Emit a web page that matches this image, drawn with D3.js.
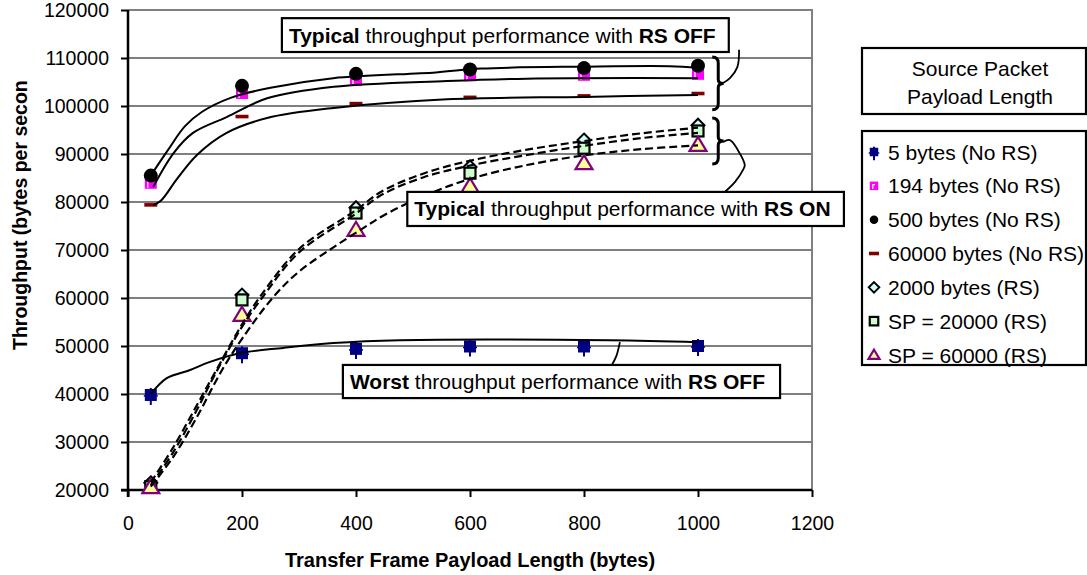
<!DOCTYPE html>
<html><head><meta charset="utf-8">
<script src="https://cdn.jsdelivr.net/npm/d3@7"></script>
<style>
html,body{margin:0;padding:0;background:#fff;}
svg{display:block;font-family:"Liberation Sans",Arial,sans-serif;}
</style></head>
<body>
<svg id="chart" width="1087" height="575"></svg>
<script>
// ---------- data ----------
const xTicks = [0,200,400,600,800,1000,1200];
const yTicks = [20000,30000,40000,50000,60000,70000,80000,90000,100000,110000,120000];
const frameLengths = [40,200,400,600,800,1000];

const s5bytes    = [39800,48500,49400,49900,49900,50000];
const s194bytes  = [84000,102700,105400,106400,106500,106700];
const s500bytes  = [85500,104200,106700,107600,107900,108400];
const s60000NoRS = [79400,97800,100500,101800,102100,102600];
const s2000RS    = [21500,60600,78800,87300,92900,96000];
const sSP20000RS = [20700,59600,77700,86000,91200,94800];
const sSP60000RS = [20600,56500,74200,83300,88100,91900];

const seriesNames = ["5 bytes (No RS)","194 bytes (No RS)","500 bytes (No RS)","60000 bytes (No RS)",
                     "2000 bytes (RS)","SP = 20000 (RS)","SP = 60000 (RS)"];

// hand-drawn trend curves (data units)
const curve500   = [[40,85500],[70,90800],[100,95800],[130,98800],[180,101700],[250,103800],[360,105800],[540,107000],[620,107800],[800,108200],[950,108300],[1000,108000]];
const curve194   = [[44,83100],[80,90200],[114,94400],[173,97700],[244,101600],[361,104000],[560,105200],[700,105700],[1000,105800]];
const curve60000 = [[44,79300],[58,80300],[86,84800],[121,89800],[173,94400],[244,97500],[361,99600],[560,101400],[800,101900],[1000,102300]];
const curve5     = [[40,40000],[68,43300],[109,45000],[144,46700],[196,48500],[272,49600],[360,50600],[477,51200],[845,51200],[1000,50800]];
const curveRSa   = [[40,21600],[80,29000],[120,37500],[155,45000],[200,54500],[235,60800],[300,70200],[400,78300],[445,82200],[520,86000],[600,88600],[700,90900],[800,92700],[900,94300],[1000,95500]];
const curveRSb   = [[40,21000],[80,28000],[120,36500],[150,43500],[200,54000],[235,60000],[300,69500],[400,77600],[445,81500],[520,85200],[600,87600],[700,89800],[800,91700],[900,93300],[1000,94400]];
const curveRSc   = [[40,20700],[80,27000],[120,35000],[165,45000],[200,51500],[255,60200],[300,65500],[361,70600],[408,74200],[450,77300],[520,81300],[600,84800],[700,87700],[800,89700],[900,91000],[1000,91800]];

// annotations (data units)
const braceOff = {x:1025, tip:1045, top:110200, bottom:99200};
const braceOn  = {x:1025, tip:1045, top:97500, bottom:87900};
const connOff  = [[1044,104800],[1056,105800],[1069,108100],[1072,111700]];
const connOn   = [[1044,92500],[1056,92900],[1070,90800],[1082,87700],[1079,86700],[1065,84200],[1047,82100]];
const connWorst= [[849,46042],[857,48000],[863,50800]];
const boxes = [
  {x0:270, x1:1054, y0:118300, y1:111250, bold1:"Typical", rest:" throughput performance with ", bold2:"RS OFF"},
  {x0:490, x1:1256, y0:82100,  y1:75000,  bold1:"Typical", rest:" throughput performance with ", bold2:"RS ON"},
  {x0:377, x1:1144, y0:46050,  y1:39150,  bold1:"Worst",   rest:" throughput performance with ", bold2:"RS OFF"}
];

// ---------- layout ----------
const svg = d3.select("#chart");
const L=128, R=812, T=10, B=490;
const x = d3.scaleLinear().domain([0,1200]).range([L,R]);
const y = d3.scaleLinear().domain([20000,120000]).range([B,T]);

// gridlines
svg.append("g").selectAll("line").data(yTicks.filter(v=>v>20000 && v<120000)).join("line")
  .attr("x1",L).attr("x2",R).attr("y1",d=>y(d)).attr("y2",d=>y(d))
  .attr("stroke","#000").attr("stroke-width",1.2);
// top and right border (grey)
svg.append("path").attr("d",`M${L},${y(120000)}H${R}V${B}`).attr("fill","none").attr("stroke","#808080").attr("stroke-width",2);

// axes
const yAxis = d3.axisLeft(y).tickValues(yTicks).tickSize(7).tickPadding(12).tickFormat(d3.format("d"));
const gy = svg.append("g").attr("transform",`translate(${L},0)`).call(yAxis);
const xAxis = d3.axisBottom(x).tickValues(xTicks).tickSize(7).tickPadding(19).tickFormat(d3.format("d"));
const gx = svg.append("g").attr("transform",`translate(0,${B})`).call(xAxis);
[gx,gy].forEach(g=>{
  g.select(".domain").attr("stroke","#000").attr("stroke-width",2.5);
  g.selectAll(".tick line").attr("stroke","#000").attr("stroke-width",2);
  g.selectAll(".tick text").attr("fill","#000").style("font-size","19.5px").style("font-family",'"Liberation Sans",Arial,sans-serif');
});
gy.select(".domain").attr("d",`M0,${T}V${B+7}`);
gx.select(".domain").attr("d",`M${L-7},0H${R}`);

// axis titles
svg.append("text").attr("x",(L+R)/2).attr("y",567).attr("text-anchor","middle")
  .style("font-size","20px").style("font-weight","bold").text("Transfer Frame Payload Length (bytes)");
svg.append("clipPath").attr("id","ytclip").append("rect").attr("x",0).attr("y",80).attr("width",60).attr("height",480);
svg.append("g").attr("clip-path","url(#ytclip)").append("text")
  .attr("transform","translate(27,350) rotate(-90)").attr("text-anchor","start")
  .style("font-size","19.5px").style("font-weight","bold").text("Throughput (bytes per second)");

// ---------- markers ----------
const mk = svg.append("g");
function pts(arr){ return frameLengths.map((f,i)=>({f, v:arr[i]})); }

function drawNavy(g,cx,cy,s){
  g.append("rect").attr("x",cx-s/2).attr("y",cy-s/2).attr("width",s).attr("height",s).attr("fill","#000080");
  g.append("line").attr("x1",cx).attr("x2",cx).attr("y1",cy-s/2-1).attr("y2",cy+s/2+4).attr("stroke","#000080").attr("stroke-width",2);
  g.append("line").attr("x1",cx-s/2-1).attr("x2",cx+s/2+1).attr("y1",cy+1).attr("y2",cy+1).attr("stroke","#000080").attr("stroke-width",1.5);
}
function drawMagenta(g,cx,cy,s){
  g.append("rect").attr("x",cx-s/2).attr("y",cy-s/2).attr("width",s).attr("height",s).attr("fill","#FF00FF");
  g.append("path").attr("d",`M${cx-s/2+3},${cy+s/2-1}V${cy-s/2+3}H${cx+1}`).attr("stroke","#fff").attr("stroke-width",1.2).attr("fill","none");
}
function drawCircle(g,cx,cy,s){
  g.append("circle").attr("cx",cx).attr("cy",cy).attr("r",s/2).attr("fill","#000");
}
function drawDash(g,cx,cy,s){
  g.append("rect").attr("x",cx-s/2).attr("y",cy-1.8).attr("width",s).attr("height",3.6).attr("fill","#800000");
}
function drawDiamond(g,cx,cy,s){
  const h=s/2+1;
  g.append("path").attr("d",`M${cx},${cy-h}L${cx+h},${cy}L${cx},${cy+h}L${cx-h},${cy}Z`).attr("fill","#CCFFFF").attr("stroke","#000").attr("stroke-width",2);
}
function drawSquare(g,cx,cy,s){
  g.append("rect").attr("x",cx-s/2).attr("y",cy-s/2).attr("width",s).attr("height",s).attr("fill","#CCFFCC").attr("stroke","#000").attr("stroke-width",2.2);
}
function drawTriangle(g,cx,cy,s){
  const h=s*0.62;
  g.append("path").attr("d",`M${cx},${cy-h}L${cx+h*1.05},${cy+h*0.75}L${cx-h*1.05},${cy+h*0.75}Z`).attr("fill","#FFFF99").attr("stroke","#800080").attr("stroke-width",2.2);
}
const seriesDefs = [
  [s5bytes, drawNavy, 12],
  [s194bytes, drawMagenta, 12],
  [s500bytes, drawCircle, 14],
  [s60000NoRS, drawDash, 13],
  [s2000RS, drawDiamond, 11],
  [sSP20000RS, drawSquare, 11],
  [sSP60000RS, drawTriangle, 13]
];
seriesDefs.forEach(([arr,fn,s])=>{
  pts(arr).forEach(p=>fn(mk, x(p.f), y(p.v), s));
});

// ---------- curves ----------
const line = d3.line().x(d=>x(d[0])).y(d=>y(d[1])).curve(d3.curveCatmullRom.alpha(0.5));
const cg = svg.append("g").attr("fill","none").attr("stroke","#000");
[curve500,curve194,curve60000,curve5].forEach(c=>cg.append("path").attr("d",line(c)).attr("stroke-width",2));
[curveRSa,curveRSb,curveRSc].forEach(c=>cg.append("path").attr("d",line(c)).attr("stroke-width",2.2).attr("stroke-dasharray","8,4"));

// ---------- braces & connectors ----------
function brace(b){
  const xa=x(b.x), xt=x(b.tip), yt=y(b.top), yb=y(b.bottom), ym=(yt+yb)/2, xm=xa+6;
  return `M${xa},${yt} Q${xm},${yt} ${xm},${yt+6} L${xm},${ym-4} Q${xm},${ym} ${xt},${ym} Q${xm},${ym} ${xm},${ym+4} L${xm},${yb-6} Q${xm},${yb} ${xa},${yb}`;
}
const ag = svg.append("g").attr("fill","none").attr("stroke","#000");
[braceOff,braceOn].forEach(b=>ag.append("path").attr("d",brace(b)).attr("stroke-width",3));
const conn = d3.line().x(d=>x(d[0])).y(d=>y(d[1])).curve(d3.curveCatmullRom.alpha(0.5));
[connOff,connOn,connWorst].forEach(c=>ag.append("path").attr("d",conn(c)).attr("stroke-width",1.8));

// ---------- boxes ----------
boxes.forEach(b=>{
  const g = svg.append("g");
  const bx=x(b.x0), by=y(b.y0), bw=x(b.x1)-x(b.x0), bh=y(b.y1)-y(b.y0);
  g.append("rect").attr("x",bx).attr("y",by).attr("width",bw).attr("height",bh).attr("fill","#fff").attr("stroke","#000").attr("stroke-width",2.2);
  const t = g.append("text").attr("x",bx+7).attr("y",by+bh/2+7.5).style("font-size","21px");
  t.append("tspan").style("font-weight","bold").text(b.bold1);
  t.append("tspan").text(b.rest);
  t.append("tspan").style("font-weight","bold").text(b.bold2);
});

// ---------- legend ----------
const lg = svg.append("g");
lg.append("rect").attr("x",862).attr("y",48).attr("width",224).attr("height",66).attr("fill","#fff").attr("stroke","#000").attr("stroke-width",2.2);
lg.append("text").attr("x",980).attr("y",76).attr("text-anchor","middle").style("font-size","21px").text("Source Packet");
lg.append("text").attr("x",980).attr("y",104).attr("text-anchor","middle").style("font-size","21px").text("Payload Length");
lg.append("rect").attr("x",862).attr("y",131).attr("width",224).attr("height",234).attr("fill","#fff").attr("stroke","#000").attr("stroke-width",2.2);
const legFns = [drawNavy,drawMagenta,drawCircle,drawDash,drawDiamond,drawSquare,drawTriangle];
const legY = d3.scalePoint().domain(seriesNames).range([152,355]);
seriesNames.forEach((n,i)=>{
  const cy = legY(n);
  legFns[i](lg, 874, cy, i===3?10:8.5);
  lg.append("text").attr("x",888).attr("y",cy+7.5).style("font-size","21px").text(n);
});
</script>
</body></html>
